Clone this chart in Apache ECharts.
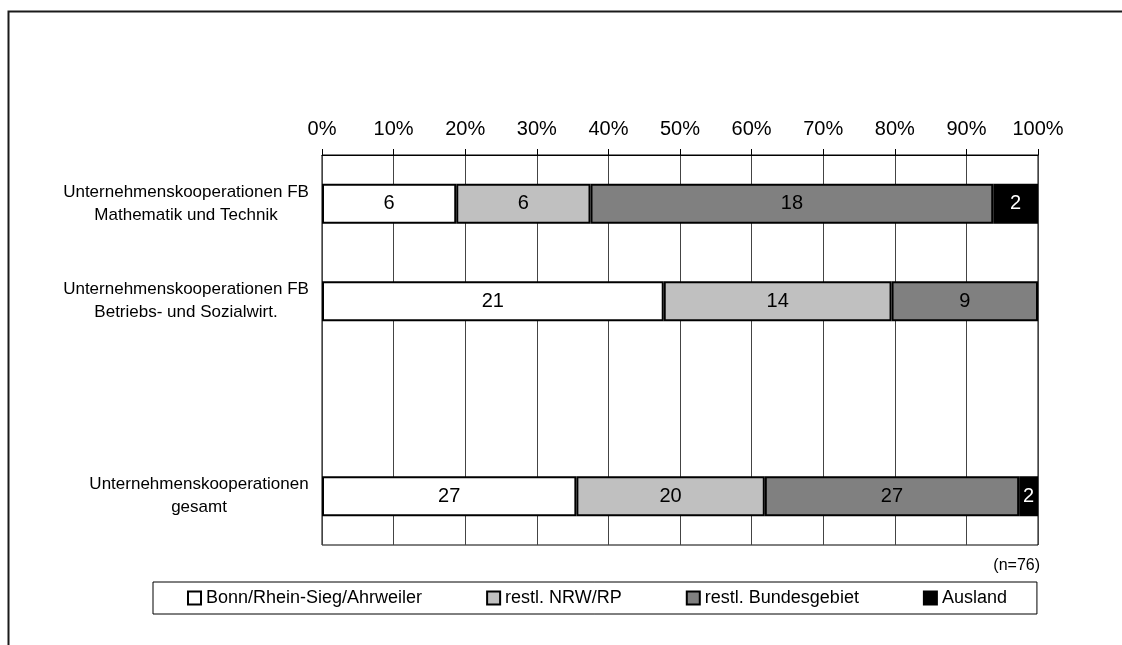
<!DOCTYPE html>
<html>
<head>
<meta charset="utf-8">
<title>Unternehmenskooperationen</title>
<script src="https://cdn.jsdelivr.net/npm/echarts@6/dist/echarts.min.js"></script>
<style>
  html, body { margin: 0; padding: 0; background: #fff; }
  #chart { width: 1122px; height: 645px; }
</style>
</head>
<body>
<div id="chart"></div>
<script>
// Cooperation partners by region, counts per group (100 % stacked)
const categories = [
  'Unternehmenskooperationen FB\nMathematik und Technik',
  'Unternehmenskooperationen FB\nBetriebs- und Sozialwirt.',
  '',
  'Unternehmenskooperationen\ngesamt'
];
const seriesNames = ['Bonn/Rhein-Sieg/Ahrweiler', 'restl. NRW/RP', 'restl. Bundesgebiet', 'Ausland'];
const bonnRheinSieg = [6, 21, null, 27];
const restNrwRp = [6, 14, null, 20];
const restBund = [18, 9, null, 27];
const ausland = [2, 0, null, 2];
const sampleNote = '(n=76)';

const seriesColors = ['#ffffff', '#c0c0c0', '#808080', '#000000'];
const labelColors = ['#000', '#000', '#000', '#fff'];
const FONT = '"Liberation Sans", Arial, Helvetica, sans-serif';

const counts = [bonnRheinSieg, restNrwRp, restBund, ausland];
const totals = categories.map((c, i) =>
  counts.reduce((s, arr) => s + (arr[i] || 0), 0));

// category labels: lines centred on each other, block right-aligned to the axis
const ctx = document.createElement('canvas').getContext('2d');
ctx.font = '17px ' + FONT;
const rich = {};
categories.forEach((c, i) => {
  const w = Math.max(0, ...c.split('\n').map(l => ctx.measureText(l).width));
  rich['c' + i] = { width: Math.ceil(w) + 2, align: 'center', fontSize: 17,
                    lineHeight: 23, fontFamily: FONT, color: '#000' };
});

const series = seriesNames.map((name, k) => ({
  name: name,
  type: 'bar',
  stack: 'total',
  barWidth: '41%',
  itemStyle: { color: seriesColors[k], borderColor: '#000', borderWidth: 2 },
  label: {
    show: true,
    position: 'inside',
    fontSize: 20,
    fontFamily: FONT,
    color: labelColors[k],
    formatter: p => {
      const v = counts[k][p.dataIndex];
      return v ? String(v) : '';
    }
  },
  emphasis: { disabled: true },
  data: counts[k].map((v, i) => (v ? v / totals[i] * 100 : null))
}));

const chart = echarts.init(document.getElementById('chart'), null, { renderer: 'canvas' });
chart.setOption({
  animation: false,
  backgroundColor: '#fff',
  textStyle: { fontFamily: FONT },
  grid: {
    left: 322, right: 84, top: 155, bottom: 100,
    show: true, borderColor: '#000', borderWidth: 1, backgroundColor: 'transparent'
  },
  xAxis: {
    type: 'value',
    position: 'top',
    min: 0, max: 100, interval: 10,
    axisLine: { show: true, lineStyle: { color: '#000', width: 1 } },
    axisTick: { show: true, length: 6, inside: false, lineStyle: { color: '#000' } },
    axisLabel: { formatter: '{value}%', fontSize: 20, color: '#000', margin: 16, fontFamily: FONT },
    splitLine: { show: true, lineStyle: { color: '#444', width: 1 } }
  },
  yAxis: {
    type: 'category',
    inverse: true,
    data: categories,
    axisLine: { show: false },
    axisTick: { show: false },
    splitLine: { show: false },
    axisLabel: {
      margin: 12,
      formatter: (value, index) => value
        ? value.split('\n').map(l => '{c' + index + '|' + l + '}').join('\n')
        : '',
      rich: rich
    }
  },
  legend: {
    data: seriesNames,
    left: 153,
    top: 582,
    orient: 'horizontal',
    icon: 'rect',
    itemWidth: 13,
    itemHeight: 13,
    itemGap: 64,
    padding: [7, 30, 7, 34],
    borderColor: '#000',
    borderWidth: 1,
    backgroundColor: '#fff',
    selectedMode: false,
    itemStyle: { borderColor: '#000', borderWidth: 2 },
    textStyle: { fontSize: 18, color: '#000', fontFamily: FONT }
  },
  graphic: [
    {
      type: 'rect',
      silent: true,
      shape: { x: 8.5, y: 11.5, width: 1300, height: 800 },
      style: { fill: 'none', stroke: '#1a1a1a', lineWidth: 2 }
    },
    {
      type: 'text',
      silent: true,
      x: 1040, y: 566,
      style: {
        text: sampleNote, fontSize: 16, fontFamily: FONT, fill: '#000',
        textAlign: 'right', textVerticalAlign: 'middle'
      }
    }
  ],
  series: series
});
</script>
</body>
</html>
